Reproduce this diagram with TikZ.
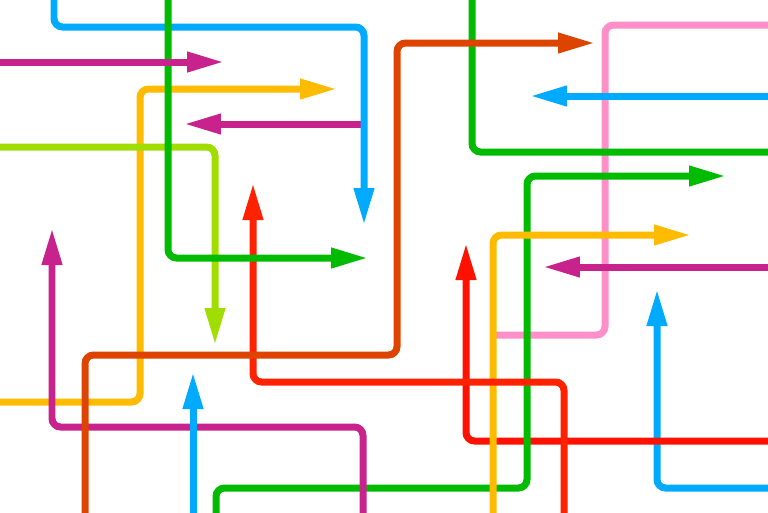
\documentclass[tikz,border=0pt]{standalone}
\usetikzlibrary{arrows.meta}
\definecolor{lineBlue}{HTML}{00AAFF}
\definecolor{lineMagenta}{HTML}{C8228C}
\definecolor{lineYellow}{HTML}{FFBB00}
\definecolor{lineLime}{HTML}{A0DD00}
\definecolor{lineGreen}{HTML}{00BB00}
\definecolor{lineOrange}{HTML}{DD4400}
\definecolor{lineRed}{HTML}{FF2200}
\definecolor{lineRedB}{HTML}{FF1100}
\definecolor{linePink}{HTML}{FF8FC8}
\tikzset{
  pipe/.style={line width=0.14cm, rounded corners=0.17cm},
  pipeA/.style={pipe, -{Triangle[length=0.74cm, width=0.38cm]}},
}

\begin{document}
\begin{tikzpicture}[x=0.02cm, y=-0.02cm]
    \useasboundingbox (0,0) rectangle (768,512);
    \clip (0,0) rectangle (768,512);
    % right half
    \draw[pipe, linePink] (490,335) -- (605,335) -- (605,25) -- (780,25);
    \draw[pipeA, lineBlue] (780,96) -- (530,96);
    \draw[pipe, lineGreen] (472,-10) -- (472,152) -- (780,152);
    \draw[pipeA, lineBlue] (780,488) -- (657,488) -- (657,289);
    \draw[pipeA, lineRedB] (780,441) -- (466,441) -- (466,243);
    \draw[pipeA, lineMagenta] (780,267) -- (543,267);
    \draw[pipeA, lineGreen] (216,525) -- (216,488) -- (527,488) -- (527,176) -- (726,176);
    \draw[pipeA, lineYellow] (493,525) -- (493,235) -- (691,235);
    \draw[pipeA, lineRed] (564,525) -- (564,382) -- (253,382) -- (253,183);
    % left half
    \draw[pipeA, lineMagenta] (362,124) -- (184,124);
    \draw[pipeA, lineBlue] (54,-10) -- (54,27) -- (364,27) -- (364,225);
    \draw[pipeA, lineYellow] (-10,402) -- (140,402) -- (140,89) -- (337,89);
    \draw[pipeA, lineLime] (-10,147) -- (215,147) -- (215,345);
    \draw[pipeA, lineGreen] (168,-10) -- (168,258) -- (368,258);
    \draw[pipeA, lineMagenta] (-10,62) -- (224,62);
    \draw[pipeA, lineMagenta] (363,525) -- (363,427) -- (52,427) -- (52,228);
    \draw[pipeA, lineOrange] (85,525) -- (85,355) -- (397,355) -- (397,43) -- (595,43);
    \draw[pipeA, lineBlue] (193,525) -- (193,372);
\end{tikzpicture}
\end{document}
